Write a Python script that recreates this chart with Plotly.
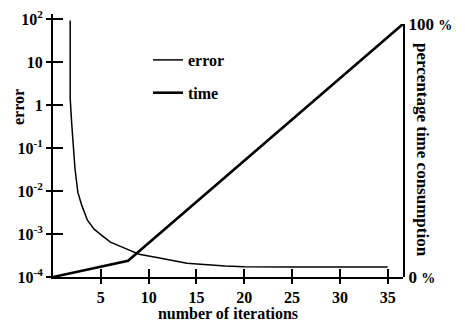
import plotly.graph_objects as go

# data
err_x = [1.8, 1.8, 1.95, 2.1, 2.3, 2.6, 3.0, 3.6, 4.3, 5.1, 6.0, 7.3, 9.0, 11.0, 14.0, 18.0, 20.0, 25.0, 30.0, 35.0]
err_y = [93, 1.4, 0.39, 0.10, 0.033, 0.0093, 0.0047, 0.0021, 0.0013, 0.00093, 0.00065, 0.00049,
         0.00034, 0.00028, 0.00021, 0.00018, 0.000174, 0.00017, 0.00017, 0.00017]
time_x = [0, 7.85, 36.6]
time_y = [0, 6.4, 100]

x_ticks = [5, 10, 15, 20, 25, 30, 35]
err_tickvals = [1e-4, 1e-3, 1e-2, 1e-1, 1, 10, 100]
err_ticktext = ["10<sup>-4</sup>", "10<sup>-3</sup>", "10<sup>-2</sup>", "10<sup>-1</sup>", "1", "10", "10<sup>2</sup>"]
time_tickvals = [0, 100]
time_ticktext = ["0 <span style='font-size:14px'>%</span>", "100 <span style='font-size:14px'>%</span>"]

FONT = "Liberation Serif"
W, H = 465, 322
PL, PR, PT, PB = 53, 403, 14, 277  # plot area in page pixels
L, R, T, B = PL, W - PR, PT, H - PB
PW, PH = PR - PL, PB - PT
XMAX = 36.6
YRANGE = [-4, 2.12]
Y2TOP = 1 - (24 - PT) / PH

def f(size):
    return dict(family=FONT, size=size, color="black", weight="bold")

def px(x):
    return (x - PL) / PW

def py(y):
    return (PB - y) / PH

fig = go.Figure()
fig.add_trace(go.Scatter(x=err_x, y=err_y, mode="lines", name="error",
                         line=dict(color="black", width=1.5), xaxis="x", yaxis="y",
                         legendgroup="a"))
fig.add_trace(go.Scatter(x=time_x, y=time_y, mode="lines", name="time",
                         line=dict(color="black", width=2.6), xaxis="x", yaxis="y2",
                         legendgroup="b"))
# invisible helpers so overlay tick axes are drawn
fig.add_trace(go.Scatter(x=[None], y=[None], xaxis="x2", yaxis="y", showlegend=False, hoverinfo="skip"))
fig.add_trace(go.Scatter(x=[None], y=[None], xaxis="x", yaxis="y3", showlegend=False, hoverinfo="skip"))

fig.update_layout(
    width=W, height=H,
    margin=dict(l=L, r=R, t=T, b=B, autoexpand=False),
    paper_bgcolor="white", plot_bgcolor="rgba(0,0,0,0)",
    font=f(14),
    showlegend=True,
    legend=dict(x=px(148), y=py(43), xanchor="left", yanchor="top", font=f(16),
                bgcolor="rgba(0,0,0,0)", tracegroupgap=9),
    xaxis=dict(range=[0, XMAX], tickvals=x_ticks, ticks="outside", ticklen=5, tickwidth=2,
               tickcolor="black", showline=True, linecolor="black", linewidth=2,
               showgrid=False, zeroline=False, tickfont=f(16), automargin=False,
               title=dict(text="number of iterations", font=f(16), standoff=0)),
    xaxis2=dict(range=[0, XMAX], overlaying="x", tickvals=x_ticks, ticks="inside", ticklen=8,
                tickwidth=2, tickcolor="black", showticklabels=False, showgrid=False,
                zeroline=False, showline=False, anchor="y", side="bottom", automargin=False),
    yaxis=dict(type="log", range=YRANGE, tickvals=err_tickvals, ticktext=err_ticktext,
               ticks="outside", ticklen=5, tickwidth=2, tickcolor="black", showline=True,
               linecolor="black", linewidth=2, showgrid=False, zeroline=False,
               tickfont=f(16), anchor="x", automargin=False),
    yaxis3=dict(type="log", range=YRANGE, tickvals=err_tickvals, overlaying="y", side="left",
                ticks="inside", ticklen=10, tickwidth=2, tickcolor="black", showticklabels=False,
                showgrid=False, zeroline=False, showline=False, anchor="x", automargin=False),
    yaxis2=dict(range=[0, 100], domain=[0, Y2TOP], anchor="x", side="right",
                tickvals=time_tickvals, ticktext=time_ticktext, ticks="", showline=True,
                linecolor="black", linewidth=2, showgrid=False, zeroline=False,
                tickfont=f(17), automargin=False, ticklabeloverflow="allow"),
)

fig.add_annotation(text="error", textangle=-90, xref="paper", yref="paper",
                   x=px(18), y=py(107), xanchor="center", yanchor="middle", showarrow=False,
                   font=f(16))
fig.add_annotation(text="percentage time consumption", textangle=90, xref="paper", yref="paper",
                   x=px(423), y=py(150), xanchor="center", yanchor="middle", showarrow=False,
                   font=f(17))

fig.write_html("out.html", config={"displayModeBar": False},
               post_script="document.body.style.margin='0';")
